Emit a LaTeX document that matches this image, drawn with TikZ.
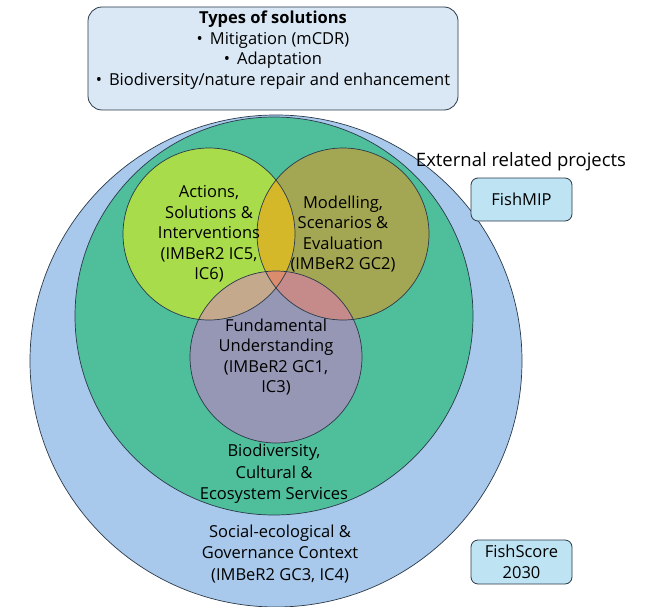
\documentclass[tikz,border=0pt]{standalone}
\usepackage{fontspec}
\setmainfont{Open Sans}
\definecolor{ringblue}{HTML}{A8C9EB}
\definecolor{ringgreen}{HTML}{4EBE9B}
\definecolor{actgreen}{HTML}{A8DC4B}
\definecolor{modolive}{HTML}{A3A753}
\definecolor{fundpurple}{HTML}{9697B4}
\definecolor{capgold}{HTML}{D4B82A}
\definecolor{captan}{HTML}{C5A98C}
\definecolor{caprose}{HTML}{C48B8A}
\definecolor{capmid}{HTML}{DA8C6C}
\definecolor{topfill}{HTML}{DAE8F5}
\definecolor{extfill}{HTML}{BEE3F3}
\definecolor{edge}{HTML}{2B3A4A}
\begin{document}
\begin{tikzpicture}[x=1pt,y=-1pt,
    lbl/.style={align=center,font=\fontsize{16.5}{20.5}\selectfont},
    extbox/.style={draw=edge,fill=extfill,rounded corners=7pt,line width=.8pt,
      align=center,font=\fontsize{16.5}{20.5}\selectfont}]
  \useasboundingbox (0,0) rectangle (648,607);
  \coordinate (ctx) at (276,361);
  \coordinate (eco) at (274,316);
  \coordinate (act) at (209,234);
  \coordinate (mod) at (343,234);
  \coordinate (fund) at (276,357);

  % rings
  \filldraw[fill=ringblue,draw=edge,line width=.7pt] (ctx) circle (246pt);
  \filldraw[fill=ringgreen,draw=edge,line width=.7pt] (eco) circle (199pt);
  \fill[actgreen] (act) circle (86pt);
  \fill[modolive] (mod) circle (86pt);
  \fill[fundpurple] (fund) circle (86pt);

  % overlaps
  \begin{scope}
    \clip (act) circle (86pt);
    \fill[capgold] (mod) circle (86pt);
    \fill[captan] (fund) circle (86pt);
  \end{scope}
  \begin{scope}
    \clip (mod) circle (86pt);
    \fill[caprose] (fund) circle (86pt);
    \clip (act) circle (86pt);
    \fill[capmid] (fund) circle (86pt);
  \end{scope}
  \foreach \c in {act,mod,fund}{
    \draw[edge,line width=.7pt] (\c) circle (86pt);
  }

  \node[lbl] (acttxt) at (act) {Actions,\\Solutions \&\\Interventions\\(IMBeR2 IC5,\\IC6)};
  \node[lbl] (modtxt) at (mod) {Modelling,\\Scenarios \&\\Evaluation\\(IMBeR2 GC2)};
  \node[lbl] (fundtxt) at (fund) {Fundamental\\Understanding\\(IMBeR2 GC1,\\IC3)};
  \node[lbl,font=\fontsize{16.5}{21.5}\selectfont] (ecotxt) at (274,474) {Biodiversity,\\Cultural \&\\Ecosystem Services};
  \node[lbl,font=\fontsize{16.5}{21.5}\selectfont] (ctxtxt) at (280,554) {Social-ecological \&\\Governance Context\\(IMBeR2 GC3, IC4)};

  % solutions box
  \node[draw=edge,fill=topfill,rounded corners=14pt,line width=.8pt,
    minimum width=370pt,minimum height=103pt] (types) at (273,58.5) {};
  \node[lbl] (typestxt) at (273,50) {\textbf{Types of solutions}\\
    \textbullet\hspace{7pt}Mitigation (mCDR)\\
    \textbullet\hspace{7pt}Adaptation\\
    \textbullet\hspace{7pt}Biodiversity/nature repair and enhancement};

  % external projects
  \node[font=\fontsize{18.5}{22}\selectfont] (exttxt) at (521,162) {External related projects};
  \node[extbox,minimum width=101pt,minimum height=43pt] (fishmip) at (521.5,199.5) {FishMIP};
  \node[extbox,minimum width=101pt,minimum height=44pt] (fishscore) at (521.5,562) {FishScore\\2030};
\end{tikzpicture}
\end{document}
